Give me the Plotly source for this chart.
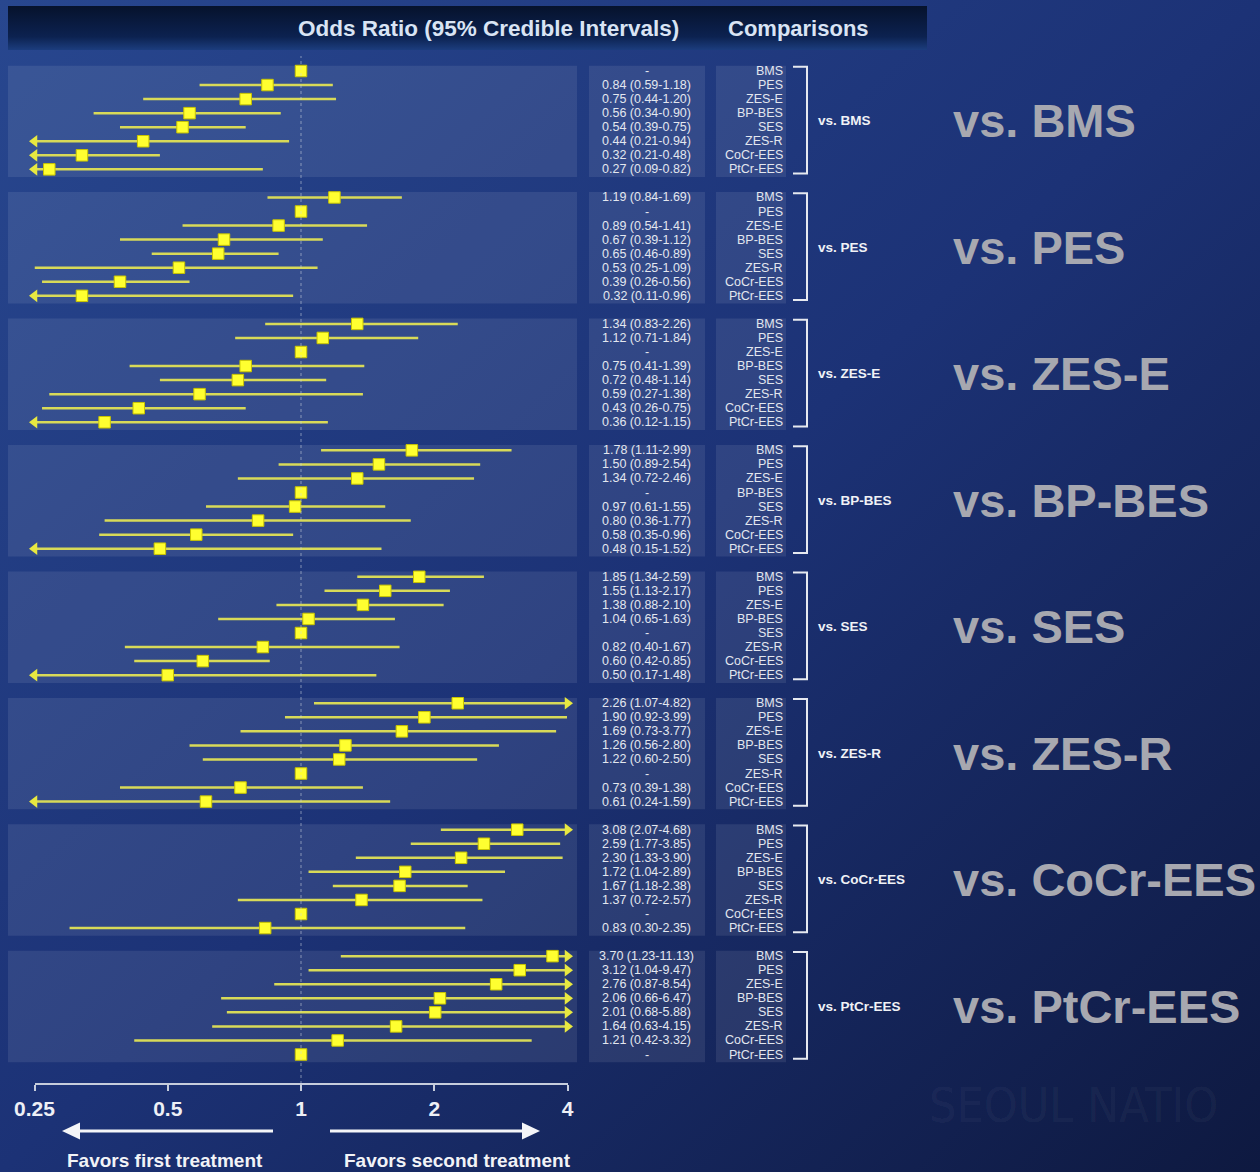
import base64
import math
import plotly.graph_objects as go

W, H = 1260, 1172

# ---------------------------------------------------------------- data
treatments = ["BMS", "PES", "ZES-E", "BP-BES", "SES", "ZES-R", "CoCr-EES", "PtCr-EES"]

# Odds ratios (95% credible intervals); rows follow `treatments`,
# None marks the comparator of the panel itself.
or_vs_bms = [None, 0.84, 0.75, 0.56, 0.54, 0.44, 0.32, 0.27]
lo_vs_bms = [None, 0.59, 0.44, 0.34, 0.39, 0.21, 0.21, 0.09]
hi_vs_bms = [None, 1.18, 1.20, 0.90, 0.75, 0.94, 0.48, 0.82]

or_vs_pes = [1.19, None, 0.89, 0.67, 0.65, 0.53, 0.39, 0.32]
lo_vs_pes = [0.84, None, 0.54, 0.39, 0.46, 0.25, 0.26, 0.11]
hi_vs_pes = [1.69, None, 1.41, 1.12, 0.89, 1.09, 0.56, 0.96]

or_vs_zese = [1.34, 1.12, None, 0.75, 0.72, 0.59, 0.43, 0.36]
lo_vs_zese = [0.83, 0.71, None, 0.41, 0.48, 0.27, 0.26, 0.12]
hi_vs_zese = [2.26, 1.84, None, 1.39, 1.14, 1.38, 0.75, 1.15]

or_vs_bpbes = [1.78, 1.50, 1.34, None, 0.97, 0.80, 0.58, 0.48]
lo_vs_bpbes = [1.11, 0.89, 0.72, None, 0.61, 0.36, 0.35, 0.15]
hi_vs_bpbes = [2.99, 2.54, 2.46, None, 1.55, 1.77, 0.96, 1.52]

or_vs_ses = [1.85, 1.55, 1.38, 1.04, None, 0.82, 0.60, 0.50]
lo_vs_ses = [1.34, 1.13, 0.88, 0.65, None, 0.40, 0.42, 0.17]
hi_vs_ses = [2.59, 2.17, 2.10, 1.63, None, 1.67, 0.85, 1.48]

or_vs_zesr = [2.26, 1.90, 1.69, 1.26, 1.22, None, 0.73, 0.61]
lo_vs_zesr = [1.07, 0.92, 0.73, 0.56, 0.60, None, 0.39, 0.24]
hi_vs_zesr = [4.82, 3.99, 3.77, 2.80, 2.50, None, 1.38, 1.59]

or_vs_cocr = [3.08, 2.59, 2.30, 1.72, 1.67, 1.37, None, 0.83]
lo_vs_cocr = [2.07, 1.77, 1.33, 1.04, 1.18, 0.72, None, 0.30]
hi_vs_cocr = [4.68, 3.85, 3.90, 2.89, 2.38, 2.57, None, 2.35]

or_vs_ptcr = [3.70, 3.12, 2.76, 2.06, 2.01, 1.64, 1.21, None]
lo_vs_ptcr = [1.23, 1.04, 0.87, 0.66, 0.68, 0.63, 0.42, None]
hi_vs_ptcr = [11.13, 9.47, 8.54, 6.47, 5.88, 4.15, 3.32, None]

panels = [
    (or_vs_bms, lo_vs_bms, hi_vs_bms),
    (or_vs_pes, lo_vs_pes, hi_vs_pes),
    (or_vs_zese, lo_vs_zese, hi_vs_zese),
    (or_vs_bpbes, lo_vs_bpbes, hi_vs_bpbes),
    (or_vs_ses, lo_vs_ses, hi_vs_ses),
    (or_vs_zesr, lo_vs_zesr, hi_vs_zesr),
    (or_vs_cocr, lo_vs_cocr, hi_vs_cocr),
    (or_vs_ptcr, lo_vs_ptcr, hi_vs_ptcr),
]

tick_vals = [0.25, 0.5, 1, 2, 4]
tick_text = ["0.25", "0.5", "1", "2", "4"]
x_min, x_max = 0.25, 4.0

# ---------------------------------------------------------------- layout helpers
ROW_PX = 14.05          # pixel height of one row
FIRST_ROW_PX = 71       # pixel centre of the very first row
STEP = 9                # rows per panel block (8 rows + gap)
AXIS_PX = 1084          # pixel row of the odds-ratio axis line


def px(x):
    return x / W


def py(y):
    return 1 - y / H


def row_index(p, r):
    return p * STEP + r


FONT = "Liberation Sans, Arial, sans-serif"
CONDENSED = "DejaVu Sans Condensed, Liberation Sans, sans-serif"


def note(x, y, text, size, color, xanchor="center", yref="paper", font=FONT):
    return dict(x=x, y=y, xref="paper", yref=yref, text=text, showarrow=False,
                xanchor=xanchor, yanchor="middle",
                font=dict(family=font, size=size, color=color))


# ---------------------------------------------------------------- traces
line_x, line_y = [], []
sq_x, sq_y = [], []
left_y, right_y = [], []

for p, (ors, los, his) in enumerate(panels):
    for r in range(len(treatments)):
        y = row_index(p, r)
        if ors[r] is None:
            sq_x.append(1.0)
            sq_y.append(y)
            continue
        lo = max(los[r], x_min)
        hi = min(his[r], x_max)
        line_x += [lo, hi, None]
        line_y += [y, y, None]
        sq_x.append(ors[r])
        sq_y.append(y)
        if los[r] < x_min:
            left_y.append(y)
        if his[r] > x_max:
            right_y.append(y)

fig = go.Figure()
fig.add_trace(go.Scatter(
    x=line_x, y=line_y, mode="lines",
    line=dict(color="#d8da58", width=2.5),
    hoverinfo="skip",
))
fig.add_trace(go.Scatter(
    x=[x_min] * len(left_y), y=left_y, mode="markers",
    marker=dict(symbol="triangle-left", size=11, color="#e8e840"),
    cliponaxis=False, hoverinfo="skip",
))
fig.add_trace(go.Scatter(
    x=[x_max] * len(right_y), y=right_y, mode="markers",
    marker=dict(symbol="triangle-right", size=11, color="#e8e840"),
    cliponaxis=False, hoverinfo="skip",
))
fig.add_trace(go.Scatter(
    x=sq_x, y=sq_y, mode="markers",
    marker=dict(symbol="square", size=11.5, color="#ffff30",
                line=dict(color="#c9c400", width=1)),
    cliponaxis=False,
))

# ---------------------------------------------------------------- background
bg_svg = f'''<svg xmlns="http://www.w3.org/2000/svg" width="{W}" height="{H}" viewBox="0 0 {W} {H}">
<defs>
<linearGradient id="bg" x1="0" y1="0" x2="1" y2="1">
<stop offset="0" stop-color="#28478f"/>
<stop offset="0.5" stop-color="#1c3276"/>
<stop offset="1" stop-color="#0e1940"/>
</linearGradient>
<linearGradient id="hdr" x1="0" y1="0" x2="0" y2="1">
<stop offset="0" stop-color="#06122c"/>
<stop offset="0.7" stop-color="#0c2250"/>
<stop offset="1" stop-color="#1c3d7e"/>
</linearGradient>
</defs>
<rect width="{W}" height="{H}" fill="url(#bg)"/>
<rect x="8" y="6" width="919" height="44" fill="url(#hdr)"/>
</svg>'''
bg_uri = "data:image/svg+xml;base64," + base64.b64encode(bg_svg.encode()).decode()

shapes = []
annotations = []

panel_fill = "rgba(255,255,255,0.085)"
for p in range(len(panels)):
    top = row_index(p, 0) - 0.38
    bot = row_index(p, 7) + 0.55
    for x0, x1 in [(8, 577), (589, 705), (716, 786)]:
        shapes.append(dict(type="rect", xref="paper", yref="y",
                           x0=px(x0), x1=px(x1), y0=top, y1=bot,
                           fillcolor=panel_fill, line=dict(width=0), layer="below"))
    # bracket grouping the comparison labels
    bt = row_index(p, 0) - 0.3
    bb = row_index(p, 7) + 0.3
    shapes.append(dict(
        type="path", xref="paper", yref="y",
        path=f"M {px(793)},{bt} L {px(807)},{bt} L {px(807)},{bb} L {px(793)},{bb}",
        line=dict(color="#e6e9f0", width=2),
    ))

# reference line at OR = 1
shapes.append(dict(type="line", xref="x", yref="paper", x0=1, x1=1,
                   y0=py(AXIS_PX), y1=py(56),
                   line=dict(color="rgba(210,215,225,0.55)", width=1, dash="dot")))

# direction arrows under the axis
arrow_y = 1131
for xs, xe, tip in [(273, 80, 62), (330, 522, 540)]:
    shapes.append(dict(type="line", xref="paper", yref="paper",
                       x0=px(xs), x1=px(xe), y0=py(arrow_y), y1=py(arrow_y),
                       line=dict(color="#f4f5f8", width=3)))
    shapes.append(dict(
        type="path", xref="paper", yref="paper",
        path=(f"M {px(tip)},{py(arrow_y)} L {px(xe)},{py(arrow_y - 8.5)} "
              f"L {px(xe)},{py(arrow_y + 8.5)} Z"),
        fillcolor="#f4f5f8", line=dict(width=0),
    ))

# header
annotations.append(note(px(488), py(28), "<b>Odds Ratio (95% Credible Intervals)</b>",
                        22.5, "#d9e4f4"))
annotations.append(note(px(798), py(28), "<b>Comparisons</b>", 22, "#d9e4f4"))

# per-row value strings and comparison names
for p, (ors, los, his) in enumerate(panels):
    for r, name in enumerate(treatments):
        y = row_index(p, r)
        if ors[r] is None:
            label = "-"
        else:
            label = f"{ors[r]:.2f} ({los[r]:.2f}-{his[r]:.2f})"
        annotations.append(note(px(647), y, label, 12.5, "#e3e7ef", yref="y"))
        annotations.append(note(px(785), y, name, 12.5, "#e3e7ef",
                                xanchor="right", yref="y"))
    mid = row_index(p, 3.55)
    annotations.append(note(px(816), mid, f"<b>vs. {treatments[p]}</b>", 13.5,
                            "#f0f2f6", xanchor="left", yref="y"))
    annotations.append(note(px(951), mid, f"<b>vs. {treatments[p]}</b>", 47,
                            "#a7a8b0", xanchor="left", yref="y"))

# axis captions
annotations.append(note(px(165), py(1160), "<b>Favors first treatment</b>", 19, "#f2f3f7"))
annotations.append(note(px(457), py(1160), "<b>Favors second treatment</b>", 19, "#f2f3f7"))

# faint institutional watermark
annotations.append(note(px(927), py(1105), "SEOUL NATIO", 48,
                        "rgba(255,255,255,0.05)", xanchor="left", font=CONDENSED))

y_top = -FIRST_ROW_PX / ROW_PX
y_bot = (H - FIRST_ROW_PX) / ROW_PX

fig.update_layout(
    width=W, height=H,
    margin=dict(l=0, r=0, t=0, b=0, pad=0),
    paper_bgcolor="#1c3276",
    plot_bgcolor="rgba(0,0,0,0)",
    showlegend=False,
    images=[dict(source=bg_uri, xref="paper", yref="paper", x=0, y=1,
                 sizex=1, sizey=1, sizing="stretch", layer="below",
                 xanchor="left", yanchor="top")],
    shapes=shapes,
    annotations=annotations,
    xaxis=dict(
        type="log",
        range=[math.log10(x_min), math.log10(x_max)],
        domain=[px(34.5), px(567.5)],
        anchor="free", position=py(AXIS_PX),
        automargin=False,
        showline=True, linecolor="#c6cddc", linewidth=1.5,
        ticks="outside", ticklen=6, tickwidth=1.5, tickcolor="#c6cddc",
        tickvals=tick_vals, ticktext=[f"<b>{t}</b>" for t in tick_text],
        tickfont=dict(family=FONT, size=21, color="#eef0f6"),
        showgrid=False, zeroline=False,
        ticklabelstandoff=0,
        fixedrange=True,
    ),
    yaxis=dict(range=[y_bot, y_top], domain=[0, 1], visible=False,
               automargin=False,
               showgrid=False, zeroline=False, fixedrange=True),
)

fig.write_html("out.html")
